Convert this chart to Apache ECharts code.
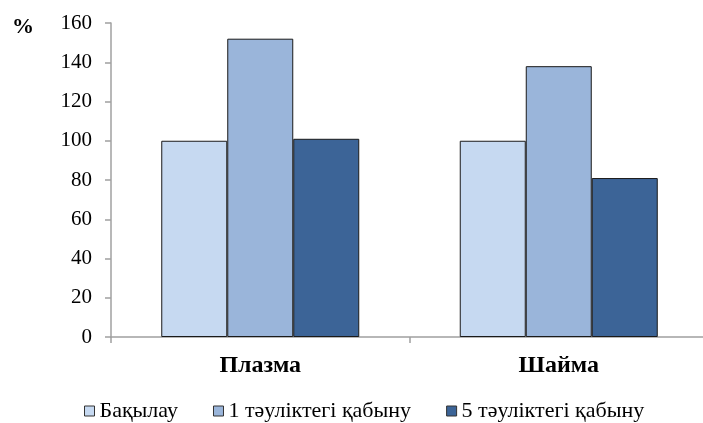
<!DOCTYPE html>
<html>
<head>
<meta charset="utf-8">
<script src="https://cdn.jsdelivr.net/npm/echarts@6/dist/echarts.min.js"></script>
<style>
  html, body { margin: 0; padding: 0; background: #fff; }
  #chart { width: 703px; height: 423px; }
</style>
</head>
<body>
<div id="chart"></div>
<script>
// Categories and series values
const categories = ['Плазма', 'Шайма'];
const seriesNames = ['Бақылау', '1 тәуліктегі қабыну', '5 тәуліктегі қабыну'];
const control = [100, 100];
const day1 = [152, 138];
const day5 = [101, 81];
const yTicks = [0, 20, 40, 60, 80, 100, 120, 140, 160];

const colors = ['#c6d9f1', '#9ab5da', '#3c6497'];
const serif = '"Liberation Serif", "DejaVu Serif", serif';

const chart = echarts.init(document.getElementById('chart'), null, { renderer: 'canvas' });

function bar(name, data, color) {
  return {
    name: name,
    type: 'bar',
    data: data,
    barWidth: 66,
    barGap: '0%',
    itemStyle: { color: color, borderColor: '#1a1a1a', borderWidth: 1 }
  };
}

chart.setOption({
  animation: false,
  textStyle: { fontFamily: serif },
  // plot area runs slightly past the right edge of the canvas
  grid: { left: 111, width: 597, top: 23, height: 314, containLabel: false, outerBoundsMode: 'none' },
  graphic: [{
    type: 'text', left: 12, top: 16,
    style: { text: '%', font: 'bold 22px ' + serif, fill: '#000' }
  }],
  legend: {
    top: 395, left: 79,
    itemWidth: 10, itemHeight: 10, itemGap: 35,
    icon: 'rect',
    textStyle: { fontFamily: serif, fontSize: 22, color: '#000', padding: [0, 0, 0, 0] },
    data: seriesNames.map((n, i) => ({ name: n, itemStyle: { color: colors[i], borderColor: '#333', borderWidth: 1 } }))
  },
  xAxis: {
    type: 'category',
    data: categories,
    axisLine: { lineStyle: { color: '#a0a0a0', width: 1.5 } },
    axisTick: { show: true, length: 6, lineStyle: { color: '#a0a0a0', width: 1.5 } },
    axisLabel: { fontFamily: serif, fontSize: 24, fontWeight: 'bold', color: '#000', margin: 17 }
  },
  yAxis: {
    type: 'value',
    min: 0, max: 160, interval: 20,
    splitLine: { show: false },
    axisLine: { show: true, lineStyle: { color: '#a0a0a0', width: 1.5 } },
    axisTick: { show: true, length: 6, lineStyle: { color: '#a0a0a0', width: 1.5 } },
    axisLabel: {
      fontFamily: serif, fontSize: 21, color: '#000', margin: 19,
      formatter: v => (yTicks.includes(v) ? String(v) : '')
    }
  },
  series: [
    bar(seriesNames[0], control, colors[0]),
    bar(seriesNames[1], day1, colors[1]),
    bar(seriesNames[2], day5, colors[2])
  ]
});
</script>
</body>
</html>
